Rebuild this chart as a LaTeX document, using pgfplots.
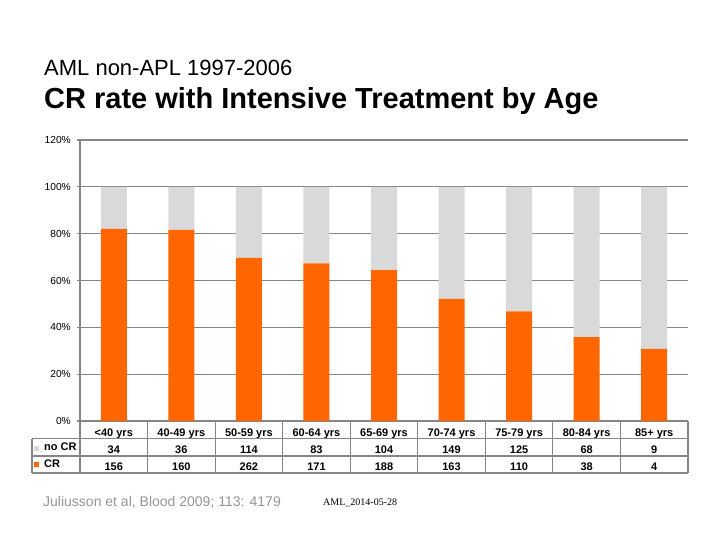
\documentclass[border=0pt]{standalone}
\usepackage{pgfplots}
\pgfplotsset{compat=1.18}
\usepackage{fontspec}
\setmainfont{Liberation Sans}
\newfontfamily\seriffont{Liberation Serif}
\definecolor{crorange}{RGB}{255,102,0}
\definecolor{nocrgray}{RGB}{217,217,217}
\definecolor{linegray}{RGB}{134,134,134}
\definecolor{footgray}{RGB}{150,150,150}
\newcommand{\rs}{\rule[-5.3pt]{0pt}{17.3pt}}
\newcommand{\cell}[3]{\begingroup\renewcommand{\arraystretch}{0}\begin{tabular}{@{}c@{}}\rs#1\\\rs#2\\\rs#3\end{tabular}\endgroup}
\begin{document}
\begin{tikzpicture}
\fill[white] (0,0) rectangle (720pt,-540pt);
\path[use as bounding box] (0,0) rectangle (720pt,-540pt);
\node[anchor=base west, inner sep=0] at (44pt,-76pt) {\fontsize{22}{26}\selectfont AML non-APL 1997-2006};
\node[anchor=base west, inner sep=0, font=\bfseries\fontsize{29}{32}\selectfont] at (44pt,-109pt) {CR rate with Intensive Treatment by Age};
\begin{axis}[
  at={(80pt,-421pt)}, anchor=south west,
  scale only axis, width=608pt, height=281pt,
  xmin=-0.5, xmax=8.5, ymin=0, ymax=120,
  ybar stacked, bar width=26pt,
  axis x line*=bottom, axis y line*=left,
  x axis line style={draw=none},
  y axis line style={draw=linegray, line width=1.2pt},
  ytick={0,20,...,120},
  yticklabels={0\%,20\%,40\%,60\%,80\%,100\%,120\%},
  ymajorgrids, grid style={linegray, line width=1.2pt},
  ytick style={linegray, line width=1.2pt},
  tick align=outside, major tick length=3pt,
  xtick={0,...,8}, xtick style={draw=none},
  xticklabels={
    {\cell{<40 yrs}{34}{156}},
    {\cell{40-49 yrs}{36}{160}},
    {\cell{50-59 yrs}{114}{262}},
    {\cell{60-64 yrs}{83}{171}},
    {\cell{65-69 yrs}{104}{188}},
    {\cell{70-74 yrs}{149}{163}},
    {\cell{75-79 yrs}{125}{110}},
    {\cell{80-84 yrs}{68}{38}},
    {\cell{85+ yrs}{9}{4}}},
  yticklabel style={font=\fontsize{10.2}{12}\selectfont, inner sep=0pt, xshift=-6pt},
  xticklabel style={font=\bfseries\fontsize{11}{12}\selectfont, anchor=north, inner sep=0pt},
]
\addplot[fill=crorange, draw=none] coordinates {(0,82.1) (1,81.6) (2,69.7) (3,67.3) (4,64.4) (5,52.2) (6,46.8) (7,35.8) (8,30.8)};
\addplot[fill=nocrgray, draw=none] coordinates {(0,17.9) (1,18.4) (2,30.3) (3,32.7) (4,35.6) (5,47.8) (6,53.2) (7,64.2) (8,69.2)};
\end{axis}
\foreach \k in {0,...,9} \draw[linegray, line width=1.2pt] ({(80+\k*67.556)*1pt},-421pt) -- ({(80+\k*67.556)*1pt},-473pt);
\draw[linegray, line width=1.2pt] (32pt,-438.5pt) -- (688pt,-438.5pt);
\draw[linegray, line width=1.2pt] (32pt,-456pt) -- (688pt,-456pt);
\draw[linegray, line width=1.2pt] (32pt,-473pt) -- (688pt,-473pt);
\draw[linegray, line width=1.2pt] (32pt,-438.5pt) -- (32pt,-473pt);
\fill[nocrgray] (33.5pt,-445.5pt) rectangle (38.5pt,-450.5pt);
\fill[crorange] (33.5pt,-461.5pt) rectangle (38.5pt,-466.5pt);
\node[anchor=base west, inner sep=0, font=\bfseries\fontsize{11}{12}\selectfont] at (44pt,-450.8pt) {no CR};
\node[anchor=base west, inner sep=0, font=\bfseries\fontsize{11}{12}\selectfont] at (44pt,-467.8pt) {CR};
\node[anchor=base west, inner sep=0, text=footgray, font=\fontsize{14}{16}\selectfont] at (43pt,-506pt) {Juliusson et al, Blood 2009; 113: 4179};
\node[anchor=base west, inner sep=0, font=\seriffont\fontsize{10}{12}\selectfont] at (323pt,-505pt) {AML\_2014-05-28};
\end{tikzpicture}
\end{document}
